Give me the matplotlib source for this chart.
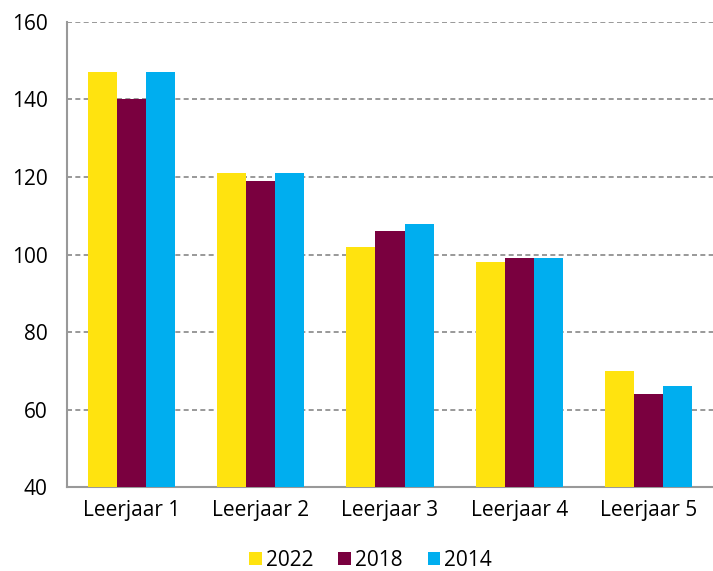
import matplotlib.pyplot as plt
import numpy as np

categories = ['Leerjaar 1', 'Leerjaar 2', 'Leerjaar 3', 'Leerjaar 4', 'Leerjaar 5']
years = ['2022', '2018', '2014']
v2022 = [147, 121, 102, 98, 70]
v2018 = [140, 119, 106, 99, 64]
v2014 = [147, 121, 108, 99, 66]
colors = ['#FFE30F', '#7A003F', '#00AEEF']

plt.rcParams['font.family'] = ['Open Sans', 'DejaVu Sans']

fig = plt.figure(figsize=(7.13, 5.71), dpi=100)
ax = fig.add_axes([0.094, 0.147, 0.906, 0.8145])

x = np.arange(len(categories))
w = 0.225
for i, (vals, lab) in enumerate(zip([v2022, v2018, v2014], years)):
    ax.bar(x + (i - 1) * w, vals, w, color=colors[i], label=lab, zorder=3)

ax.set_xlim(-0.5, len(categories) - 0.5)
ax.set_ylim(40, 160)
ax.set_yticks(range(40, 161, 20))
ax.set_xticks(x)
ax.set_xticklabels(categories)
ax.yaxis.grid(True, linestyle=(0, (3, 2)), color='#888888', linewidth=1.2, zorder=0)
ax.tick_params(length=0, labelsize=15, colors='black')
ax.tick_params(axis='y', pad=14)
ax.tick_params(axis='x', pad=9)
for s in ['top', 'right']:
    ax.spines[s].set_visible(False)
for s in ['left', 'bottom']:
    ax.spines[s].set_color('#999999')
    ax.spines[s].set_linewidth(1.5)

ax.legend(loc='upper center', bbox_to_anchor=(0.47, -0.108), ncol=3, frameon=False,
          fontsize=15, handlelength=0.6, handleheight=0.6, handletextpad=0.2,
          columnspacing=1.2, borderpad=0.1)

fig.savefig('out.png', dpi=100)
